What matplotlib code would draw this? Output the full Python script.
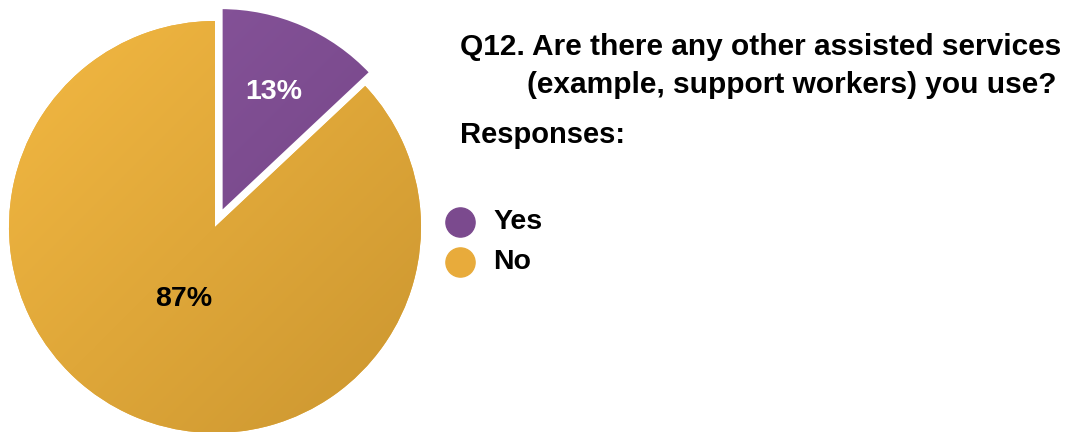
import numpy as np
import matplotlib.pyplot as plt
from matplotlib.colors import LinearSegmentedColormap

labels = ['Yes', 'No']
values = [13, 87]
colors = ['#7b4a8e', '#e8ab3b']
shades = [('#8c58a0', '#6c3f7e'), ('#f5ba43', '#c9942f')]
label_colors = ['white', 'black']
label_dist = [0.64, 0.38]

title_lines = ['Q12. Are there any other assisted services',
               '(example, support workers) you use?']
subtitle = 'Responses:'

plt.rcParams['font.family'] = ['Liberation Sans', 'DejaVu Sans']

fig = plt.figure(figsize=(10.79, 4.32), dpi=100)
W, H = 1079, 432

# pie axes, sized in pixels so the circle lands where the reference has it
cx, cy, r = 215, 227, 206
lim = 1.15
ax = fig.add_axes([(cx - lim * r) / W, (H - cy - lim * r) / H,
                   2 * lim * r / W, 2 * lim * r / H])

wedges, _ = ax.pie(values, colors=colors, startangle=90, counterclock=False,
                   explode=[0.072, 0], radius=1,
                   wedgeprops=dict(linewidth=0))
ax.set_xlim(-lim, lim)
ax.set_ylim(-lim, lim)
ax.set_aspect('equal')
ax.axis('off')

# soft diagonal shading, clipped to each slice
yy, xx = np.mgrid[1:-1:300j, -1:1:300j]
grad = (xx - yy + 2) / 4
for w, (c1, c2) in zip(wedges, shades):
    cmap = LinearSegmentedColormap.from_list('s', [c1, c2])
    im = ax.imshow(grad, cmap=cmap, extent=(-1.1, 1.1, -1.1, 1.1),
                   origin='upper', zorder=w.get_zorder() + 0.1,
                   interpolation='bilinear', vmin=0, vmax=1)
    im.set_clip_path(w)

wedges[0].set_edgecolor('white')
wedges[0].set_linewidth(2.5)
wedges[0].set_zorder(5)
wedges[0].set_facecolor('none')

for w, lab_c, d, v in zip(wedges, label_colors, label_dist, values):
    mid = np.deg2rad((w.theta1 + w.theta2) / 2)
    x0, y0 = w.center
    ax.text(x0 + d * np.cos(mid), y0 + d * np.sin(mid), f'{v}%',
            ha='center', va='center', fontsize=20.5, fontweight='bold',
            color=lab_c, zorder=10)

# title: two lines, second one indented like the reference
for txt, x, y in zip(title_lines, [460, 527], [55, 93]):
    fig.text(x / W, 1 - y / H, txt, fontsize=21.5, fontweight='bold',
             va='baseline', ha='left')
fig.text(460 / W, 1 - 143 / H, subtitle, fontsize=21, fontweight='bold',
         va='baseline', ha='left')

for i, (lab, c) in enumerate(zip(labels, colors)):
    y = 1 - (222 + 40 * i) / H
    fig.lines.append(plt.Line2D([460 / W], [y], marker='o', markersize=21,
                                color=c, transform=fig.transFigure))
    fig.text(493 / W, y, lab, fontsize=20.5, fontweight='bold',
             va='center', ha='left')

fig.savefig('out.png', dpi=100)
